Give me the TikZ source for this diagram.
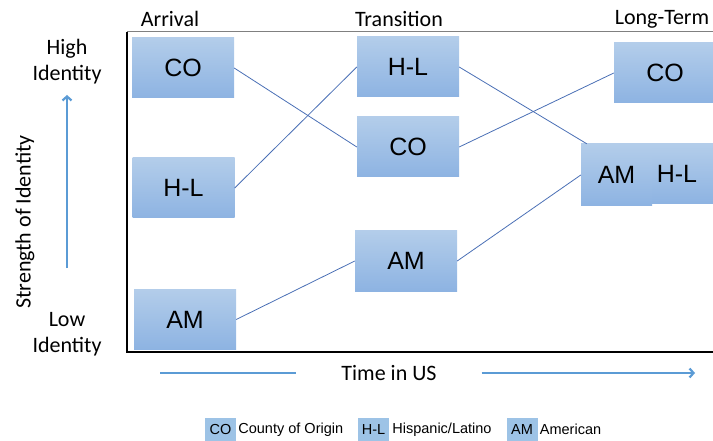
\documentclass[tikz,border=0pt]{standalone}
\usepackage{fontspec}
\setmainfont{Carlito}
\newfontfamily\arialfont{Liberation Sans}
\usetikzlibrary{positioning, arrows.meta}

\definecolor{boxtop}{HTML}{B3CDEA}
\definecolor{boxbot}{HTML}{8DB3E2}
\definecolor{linkblue}{HTML}{4A6FB5}
\definecolor{axisblue}{HTML}{5B9BD5}
\definecolor{keyblue}{HTML}{9DC3E6}

\begin{document}
\begin{tikzpicture}[x=1pt, y=-1pt,
    idbox/.style={rectangle, top color=boxtop, bottom color=boxbot, minimum width=102pt,
      minimum height=60pt, inner sep=0pt, font=\arialfont\fontsize{25}{29}\selectfont},
    link/.style={linkblue, line width=0.8pt},
    axisline/.style={axisblue, line width=2.2pt},
    label/.style={font=\fontsize{22}{26}\selectfont, align=center, inner sep=0pt},
    keybox/.style={fill=keyblue, minimum width=31pt, minimum height=23pt, inner sep=0pt,
      font=\arialfont\fontsize{14.5}{16}\selectfont},
    keytext/.style={font=\arialfont\fontsize{14.5}{16}\selectfont, inner sep=1pt}]
  \useasboundingbox (0,0) rectangle (713,441);

  % frame
  \draw[gray, line width=1pt] (127,32) -- (713,32);
  \draw[line width=1.2pt] (127,32) -- (127,352) -- (713,352);

  % column heads
  \node[label] (arrival) at (170,19) {Arrival};
  \node[label] (transition) at (399,19) {Transition};
  \node[label] (longterm) at (662,19) {Long-Term};

  % identity boxes
  \node[idbox] (arrCO) at (183,68) {CO};
  \node[idbox] (arrHL) at (183.5,188) {H-L};
  \node[idbox] (arrAM) at (185,319.5) {AM};
  \node[idbox] (trHL) at (408,67) {H-L};
  \node[idbox] (trCO) at (408,147) {CO};
  \node[idbox] (trAM) at (406,261) {AM};
  \node[idbox] (ltCO) at (665,73) {CO};
  \node[idbox] (ltHL) at (677,174) {H-L};
  \node[idbox, minimum width=71pt, minimum height=62pt] (ltAM) at (616.5,175) {AM};

  % links
  \draw[link] (arrCO.east) -- (trCO.west);
  \draw[link] (arrHL.east) -- (trHL.west);
  \draw[link] (arrAM.east) -- (trAM.west);
  \draw[link] (trHL.east) -- ([xshift=6pt]ltAM.north west);
  \draw[link] (trCO.east) -- (ltCO.west);
  \draw[link] (trAM.east) -- (ltAM.west);

  % vertical axis
  \node[label] (high) at (67,62) {High\\Identity};
  \node[label] (low) at (67,334) {Low\\Identity};
  \node[label, rotate=90] (strength) at (25,222) {Strength of Identity};
  \coordinate (ytail) at (67,268);
  \coordinate (yhead) at (67,95);
  \draw[axisline, -{Straight Barb[length=4pt, width=9pt]}] (ytail) -- (yhead);

  % horizontal axis
  \node[label, inner xsep=45pt] (time) at (389,373) {Time in US};
  \coordinate (xtail) at (160,373);
  \coordinate (xhead) at (695,373);
  \draw[axisline] (xtail) -- (time.west);
  \draw[axisline, -{Straight Barb[length=4pt, width=9pt]}] (time.east) -- (xhead);

  % legend
  \node[keybox] (keyCO) at (220.5,429.5) {CO};
  \node[keytext, right=1pt of keyCO] (keyCOtext) {County of Origin};
  \node[keybox] (keyHL) at (373.5,429.5) {H-L};
  \node[keytext, right=2pt of keyHL] (keyHLtext) {Hispanic/Latino};
  \node[keybox] (keyAM) at (522,429.5) {AM};
  \node[keytext, right=1pt of keyAM] (keyAMtext) {American};
\end{tikzpicture}
\end{document}
